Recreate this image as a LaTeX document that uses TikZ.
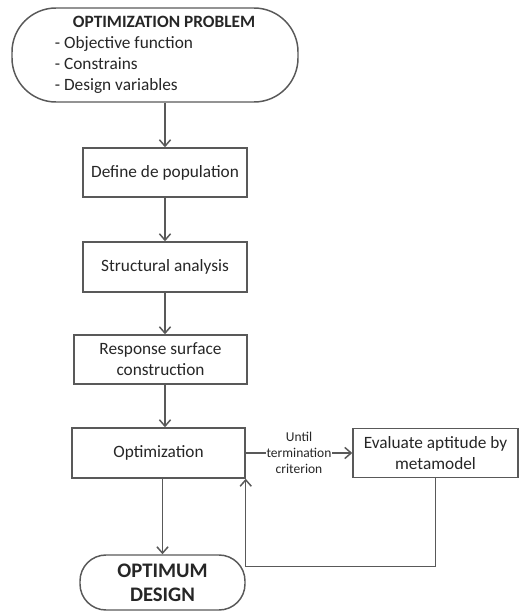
\documentclass[tikz,border=0pt]{standalone}
\usepackage{fontspec}
\setmainfont{Carlito}
\usetikzlibrary{calc,arrows.meta}

\begin{document}
\begin{tikzpicture}[line width=1.05pt,draw=black!65,text=black!85,
	every node/.style={draw=black!65,inner sep=.05 cm,font=\fontsize{12.3}{14.9}\selectfont},
	box/.style={rectangle,minimum height=1.225cm},
	term/.style={rectangle,rounded corners=1.1cm},
	arr/.style={-{Straight Barb[length=1.6mm,width=2.8mm]},draw=black!65}]
				\useasboundingbox (0,0) rectangle (13.05,-15.3);
				%top and bottom terminals placed by hand
				\node[term,minimum width=7.15cm,minimum height=2.35cm,align=left] (prob) at (3.875,-1.375)
				{\hspace*{0.45cm}\textbf{OPTIMIZATION PROBLEM}\\- Objective function\\- Constrains\\- Design variables};
				\node[term,rounded corners=.65cm,minimum width=4.125cm,minimum height=1.375cm,align=center,font=\fontsize{14.7}{17}\selectfont\bfseries] (optd) at (4.0625,-14.5625){OPTIMUM\\DESIGN};
				%% process boxes of the main column
				\node[box,minimum width=4.1cm] (def) at (4.125,-4.3125){Define de population};
				\node[box,minimum width=4.1cm,minimum height=1.25cm] (stru) at (4.125,-6.675){Structural analysis};
				\node[box,minimum width=4.325cm,align=center] (resp) at (4.0125,-8.9875){Response surface\\construction};
				\node[box,minimum width=4.325cm,minimum height=1.25cm] (opt) at (3.9625,-11.325){Optimization};
				\node[box,minimum width=4.125cm,align=center] (eval) at (10.8875,-11.325){Evaluate aptitude by\\metamodel};
				\coordinate (back) at ($(eval.south)+(0,-2.2)$);
				%% vertical arrows down the column
				\draw[arr] (prob.south -| def.north)--(def.north);
				\draw[arr] (def)--(stru);
				\draw[arr] (stru.south)--(stru.south |- resp.north);
				\draw[arr] (resp.south -| def)--(opt.north -| def);
				\draw[arr] (opt.south -| optd)--(optd);
				%% loop with the metamodel
				\draw[arr] (opt.east)--(eval.west) node[midway,draw=none,fill=white,inner sep=.02cm,align=center,font=\fontsize{9.6}{11.4}\selectfont]{Until\\termination\\criterion};
				\draw[arr] (eval.south)--(back)-|(opt.south east);
				\end{tikzpicture}
\end{document}
